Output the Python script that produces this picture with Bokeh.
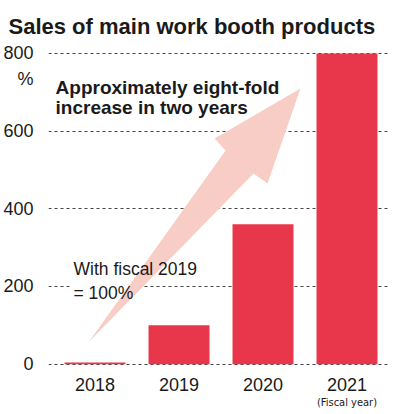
from bokeh.plotting import figure
from bokeh.models import Range1d, FixedTicker, Label, LinearAxis
from bokeh.embed import file_html
from bokeh.resources import INLINE

# data
years = ["2018", "2019", "2020", "2021"]
sales_pct = [4, 100, 360, 800]
y_ticks = [0, 200, 400, 600, 800]
unit_label = "%"
unit_pos = 735
x_note = "(Fiscal year)"

# decorative arrow outline (data coordinates: category index, percent)
arrow_x = [-0.077, 1.887, 2.054, 2.446, 1.423, 1.554]
arrow_y = [56.6, 491, 465, 709.5, 581, 550]

FONT = "Liberation Sans"
BAR = "#E8374B"
PINK = "#F8CDC5"
TXT = "#1a1a1a"

p = figure(width=394, height=414, output_backend="svg", toolbar_location=None,
           x_range=Range1d(-0.554, 3.506), y_range=Range1d(-6, 810),
           min_border_left=48, min_border_right=5, min_border_top=49, min_border_bottom=48)
p.outline_line_color = None
p.background_fill_color = "white"
p.border_fill_color = "white"

p.title.text = "Sales of main work booth products"
p.title.text_font = FONT
p.title.text_font_size = "22px"
p.title.text_font_style = "bold"
p.title.text_color = TXT
p.title.offset = -40
p.title.standoff = 21

xs = list(range(len(years)))
p.vbar(x=xs, top=sales_pct, width=0.726, bottom=0, color=BAR, line_color=None)

# white box behind "= 100%"
p.quad(left=[-0.29], right=[0.56], bottom=[165], top=[215], fill_color="white", line_color=None)

p.patch(arrow_x, arrow_y, fill_color=PINK, line_color=None)

# axes
p.yaxis.ticker = FixedTicker(ticks=y_ticks + [unit_pos])
p.yaxis.major_label_overrides = {unit_pos: unit_label}
p.yaxis.axis_line_color = None
p.yaxis.major_tick_line_color = None
p.yaxis.minor_tick_line_color = None
p.yaxis.major_label_standoff = 9
p.yaxis.major_label_text_font = FONT
p.yaxis.major_label_text_font_size = "18px"
p.yaxis.major_label_text_color = TXT

p.xaxis.ticker = FixedTicker(ticks=xs)
p.xaxis.major_label_overrides = {i: y for i, y in enumerate(years)}
p.xaxis.axis_line_color = None
p.xaxis.major_tick_line_color = None
p.xaxis.minor_tick_line_color = None
p.xaxis.major_label_standoff = 5
p.xaxis.major_label_text_font = FONT
p.xaxis.major_label_text_font_size = "18px"
p.xaxis.major_label_text_color = TXT

ax2 = LinearAxis(ticker=FixedTicker(ticks=[xs[-1]]),
                 major_label_overrides={xs[-1]: x_note},
                 axis_line_color=None, major_tick_line_color=None, minor_tick_line_color=None,
                 major_label_standoff=-4, major_label_text_font="DejaVu Sans Condensed",
                 major_label_text_font_size="11px", major_label_text_color=TXT)
p.add_layout(ax2, "below")

p.xgrid.grid_line_color = None
p.ygrid.ticker = FixedTicker(ticks=y_ticks)
p.ygrid.grid_line_color = "#444444"
p.ygrid.grid_line_dash = "3 3"
p.ygrid.grid_line_width = 1

labels = [
    dict(x=-0.470, y=712, text="Approximately eight-fold", size="19px", style="bold"),
    dict(x=-0.470, y=660, text="increase in two years", size="19px", style="bold"),
    dict(x=-0.256, y=244, text="With fiscal 2019", size="17.5px", style="normal"),
    dict(x=-0.256, y=182, text="= 100%", size="17.5px", style="normal"),
]
for d in labels:
    p.add_layout(Label(x=d["x"], y=d["y"], text=d["text"], text_font=FONT,
                       text_font_size=d["size"], text_align="left",
                       text_font_style=d["style"], text_color=TXT,
                       text_baseline="alphabetic"))

open("out.html", "w").write(file_html(p, INLINE))
